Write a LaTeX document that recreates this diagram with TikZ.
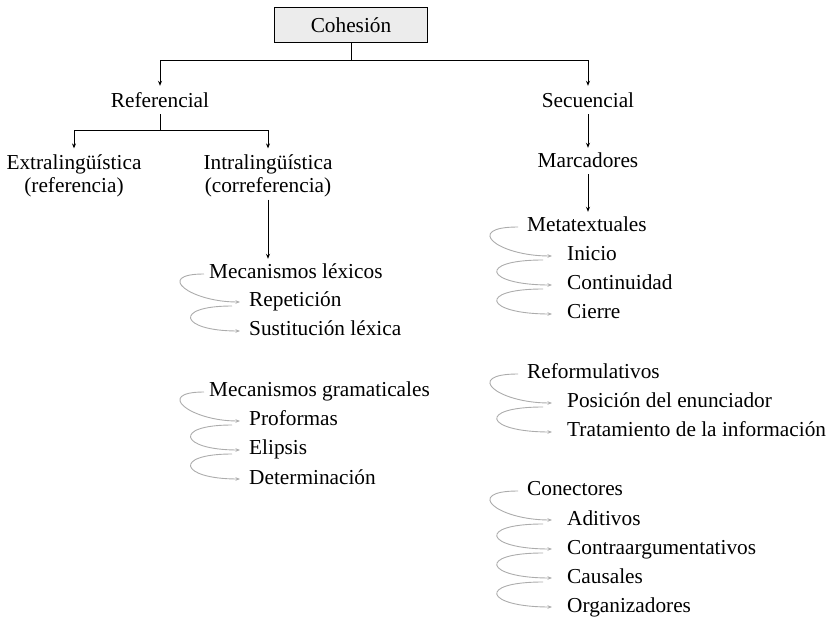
\documentclass[tikz,border=0pt]{standalone}
\usepackage{fontspec}
\setmainfont{Liberation Serif}
\usetikzlibrary{arrows.meta}
\begin{document}
\begin{tikzpicture}[x=1pt,y=-1pt,
 lbl/.style={font=\fontsize{21.3}{23.5}\selectfont, inner sep=2pt},
 one/.style={lbl, text height=14pt, text depth=4pt, yshift=-3pt},
 item/.style={one, anchor=west},
 arr/.style={-{Stealth[length=5pt,width=4pt]}, line width=0.8pt},
 curl/.style={draw=gray!65, line width=0.9pt, -{Stealth[length=4.5pt,width=3.5pt]}}]
\useasboundingbox (0,0) rectangle (833,617);
% top
\node[lbl, draw, line width=0.8pt, fill=gray!15, minimum width=153pt, minimum height=35pt] (coh) at (351,25) {Cohesión};
\node[one] (ref) at (160,100) {Referencial};
\node[one] (sec) at (588,100) {Secuencial};
\coordinate (j1) at (351,60);
\draw[arr, shorten >=6pt] (coh.south) -- (j1) -| (ref.north);
\draw[arr, shorten >=6pt] (j1) -| (sec.north);
% referencial
\node[lbl, align=center] (ext) at (74,176) {Extralingüística\\(referencia)};
\node[lbl, align=center] (int) at (268,176) {Intralingüística\\(correferencia)};
\coordinate (j2) at (160,130);
\draw[arr, shorten >=4pt] (ref.south) -- (j2) -| (ext.north);
\draw[arr, shorten >=4pt] (j2) -| (int.north);
% mecanismos lexicos
\node[item] (mlex) at (207,271) {Mecanismos léxicos};
\node[item] (rep) at (247,299) {Repetición};
\node[item] (sus) at (247,328) {Sustitución léxica};
\draw[arr, shorten >=4pt] (int.south) -- (int.south |- mlex.north);
\draw[curl] ([xshift=-3pt]mlex.west) .. controls +(-50,0) and +(-50,0) .. ([xshift=-7pt]rep.west);
\draw[curl] ([xshift=-15pt,yshift=-4pt]rep.west) .. controls +(-60,0) and +(-60,0) .. ([xshift=-7pt]sus.west);
% mecanismos gramaticales
\node[item] (mgra) at (207,389) {Mecanismos gramaticales};
\node[item] (pro) at (247,418) {Proformas};
\node[item] (eli) at (247,447) {Elipsis};
\node[item] (det) at (247,476) {Determinación};
\draw[curl] ([xshift=-3pt]mgra.west) .. controls +(-50,0) and +(-50,0) .. ([xshift=-7pt]pro.west);
\draw[curl] ([xshift=-15pt,yshift=-4pt]pro.west) .. controls +(-60,0) and +(-60,0) .. ([xshift=-7pt]eli.west);
\draw[curl] ([xshift=-15pt,yshift=-4pt]eli.west) .. controls +(-60,0) and +(-60,0) .. ([xshift=-7pt]det.west);
% secuencial
\node[one] (mar) at (588,160) {Marcadores};
\draw[arr, shorten >=4pt] (sec.south) -- (mar.north);
\node[item] (met) at (525,224) {Metatextuales};
\node[item] (ini) at (565,253) {Inicio};
\node[item] (con) at (565,282) {Continuidad};
\node[item] (cie) at (565,311) {Cierre};
\draw[arr, shorten >=4pt] (mar.south) -- (mar.south |- met.north);
\draw[curl] ([xshift=-7pt]met.west) .. controls +(-55,0) and +(-55,0) .. ([xshift=-13pt]ini.west);
\draw[curl] ([xshift=-22pt,yshift=-4pt]ini.west) .. controls +(-67,0) and +(-67,0) .. ([xshift=-13pt]con.west);
\draw[curl] ([xshift=-22pt,yshift=-4pt]con.west) .. controls +(-67,0) and +(-67,0) .. ([xshift=-13pt]cie.west);
% reformulativos
\node[item] (refo) at (525,371) {Reformulativos};
\node[item] (pos) at (565,400) {Posición del enunciador};
\node[item] (tra) at (565,429) {Tratamiento de la información};
\draw[curl] ([xshift=-7pt]refo.west) .. controls +(-55,0) and +(-55,0) .. ([xshift=-13pt]pos.west);
\draw[curl] ([xshift=-22pt,yshift=-4pt]pos.west) .. controls +(-67,0) and +(-67,0) .. ([xshift=-13pt]tra.west);
% conectores
\node[item] (cone) at (525,488) {Conectores};
\node[item] (adi) at (565,517) {Aditivos};
\node[item] (cont) at (565,546) {Contraargumentativos};
\node[item] (cau) at (565,575) {Causales};
\node[item] (org) at (565,604) {Organizadores};
\draw[curl] ([xshift=-7pt]cone.west) .. controls +(-55,0) and +(-55,0) .. ([xshift=-13pt]adi.west);
\draw[curl] ([xshift=-22pt,yshift=-4pt]adi.west) .. controls +(-67,0) and +(-67,0) .. ([xshift=-13pt]cont.west);
\draw[curl] ([xshift=-22pt,yshift=-4pt]cont.west) .. controls +(-67,0) and +(-67,0) .. ([xshift=-13pt]cau.west);
\draw[curl] ([xshift=-22pt,yshift=-4pt]cau.west) .. controls +(-67,0) and +(-67,0) .. ([xshift=-13pt]org.west);
\end{tikzpicture}
\end{document}
